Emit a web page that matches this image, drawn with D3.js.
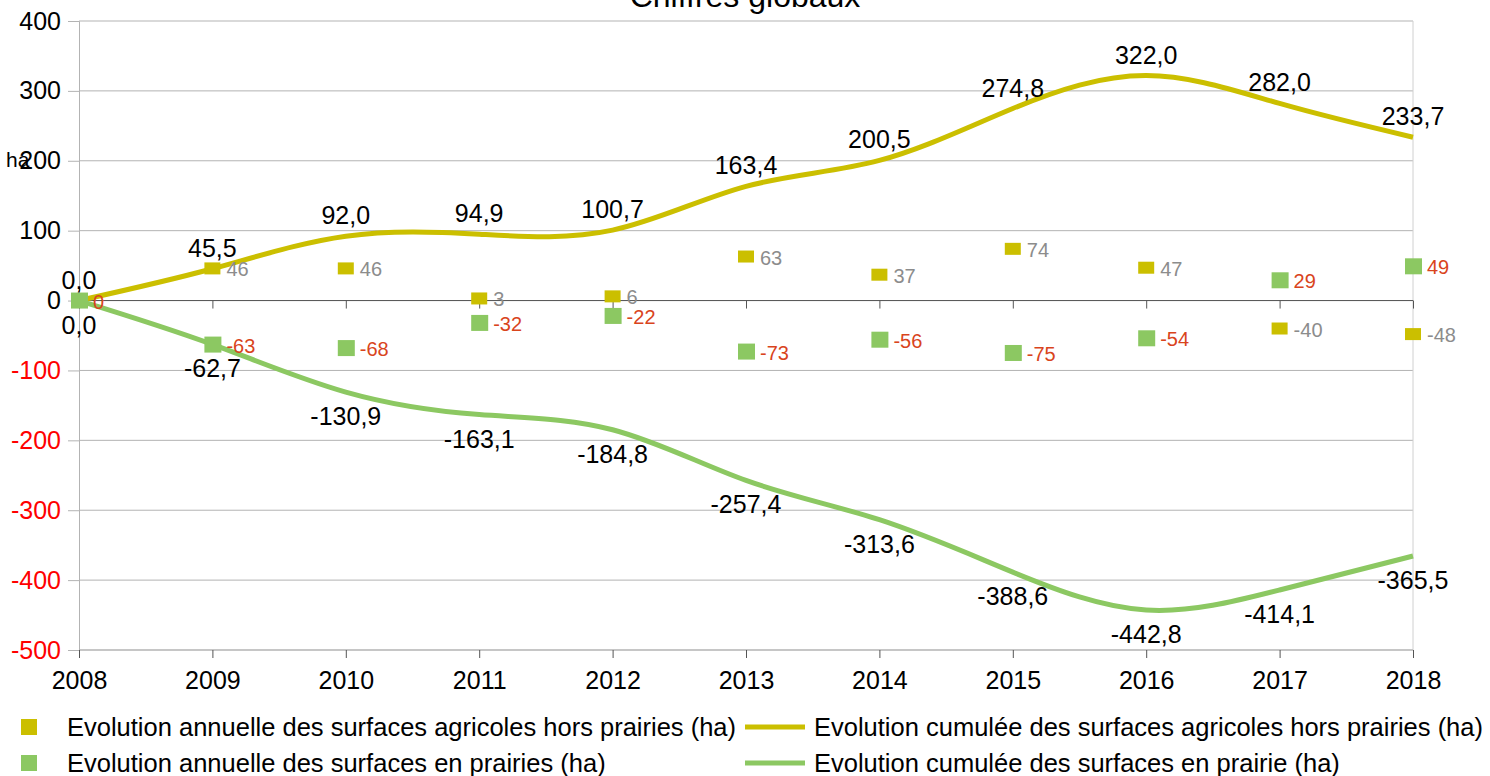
<!DOCTYPE html>
<html>
<head>
<meta charset="utf-8">
<script src="https://cdn.jsdelivr.net/npm/d3@7"></script>
<style>
  body { margin: 0; background: #fff; }
  svg { font-family: "Liberation Sans", Arial, sans-serif; }
</style>
</head>
<body>
<div id="chart"></div>
<script>
// data
var years = ["2008", "2009", "2010", "2011", "2012", "2013", "2014", "2015", "2016", "2017", "2018"];
var annuelHors = [0, 46, 46, 3, 6, 63, 37, 74, 47, -40, -48];
var annuelPrairies = [0, -63, -68, -32, -22, -73, -56, -75, -54, 29, 49];
var cumulHors = [0, 45.5, 92.0, 94.9, 100.7, 163.4, 200.5, 274.8, 322.0, 282.0, 233.7];
var cumulPrairie = [0, -62.7, -130.9, -163.1, -184.8, -257.4, -313.6, -388.6, -442.8, -414.1, -365.5];
var yTicks = [-500, -400, -300, -200, -100, 0, 100, 200, 300, 400];

var W = 1490, H = 776;
var yellow = "#cbbf00", green = "#8cc862";

var svg = d3.select("#chart").append("svg")
    .attr("width", W)
    .attr("height", H);

var x = d3.scalePoint().domain(years).range([79, 1413]);
var y = d3.scaleLinear().domain([-500, 400]).range([650, 21]);

var fmt = function(v) { return v.toFixed(1).replace(".", ","); };

// title (cut at top like the original)
svg.append("text")
    .attr("x", 745).attr("y", 7)
    .attr("text-anchor", "middle")
    .attr("font-size", 32)
    .text("Chiffres globaux");

// grid
svg.append("g").selectAll("line")
    .data(yTicks)
    .enter().append("line")
    .attr("x1", 79).attr("x2", 1413)
    .attr("y1", function(d) { return y(d); })
    .attr("y2", function(d) { return y(d); })
    .attr("stroke", "#b3b3b3")
    .attr("stroke-width", 1);

// right border
svg.append("line")
    .attr("x1", 1413).attr("x2", 1413)
    .attr("y1", y(400)).attr("y2", y(-500))
    .attr("stroke", "#d0d0d0");

// y axis
var yAxis = svg.append("g")
    .attr("transform", "translate(79,0)")
    .call(d3.axisLeft(y).tickValues(yTicks).tickSize(11).tickPadding(7).tickFormat(d3.format("d")));
yAxis.select(".domain").attr("stroke", "#b3b3b3");
yAxis.selectAll(".tick line").attr("stroke", "#b3b3b3");
yAxis.selectAll("text")
    .attr("font-size", 25)
    .attr("font-family", "Liberation Sans, Arial, sans-serif")
    .attr("fill", function(d) { return d < 0 ? "#ff0000" : "#000"; })
    .text(function(d) { return d < 0 ? "-" + Math.abs(d) : d; });

// x axis at zero and at bottom
var xAxis0 = svg.append("g")
    .attr("transform", "translate(0," + y(0) + ")")
    .call(d3.axisBottom(x).tickSize(8).tickFormat(""));
xAxis0.select(".domain").attr("stroke", "#555").attr("d", "M79,0H1413");
xAxis0.selectAll(".tick line").attr("stroke", "#555");

var xAxisB = svg.append("g")
    .attr("transform", "translate(0," + y(-500) + ")")
    .call(d3.axisBottom(x).tickSize(8).tickPadding(13));
xAxisB.select(".domain").attr("stroke", "#b3b3b3").attr("d", "M79,0H1413");
xAxisB.selectAll(".tick line").attr("stroke", "#555");
xAxisB.selectAll("text")
    .attr("font-size", 25)
    .attr("font-family", "Liberation Sans, Arial, sans-serif")
    .attr("fill", "#000");

// unit label
svg.append("text")
    .attr("x", 6).attr("y", 167)
    .attr("font-size", 21)
    .text("ha");

// cumulative lines
var line = d3.line()
    .x(function(d, i) { return x(years[i]); })
    .y(function(d) { return y(d); })
    .curve(d3.curveNatural);

svg.append("path").datum(cumulHors)
    .attr("d", line)
    .attr("fill", "none")
    .attr("stroke", yellow)
    .attr("stroke-width", 5);

svg.append("path").datum(cumulPrairie)
    .attr("d", line)
    .attr("fill", "none")
    .attr("stroke", green)
    .attr("stroke-width", 5);

// annual markers
svg.append("g").selectAll("rect")
    .data(annuelHors)
    .enter().append("rect")
    .attr("x", function(d, i) { return x(years[i]) - 8; })
    .attr("y", function(d) { return y(d) - 6; })
    .attr("width", 16).attr("height", 12)
    .attr("fill", yellow);

svg.append("g").selectAll("rect")
    .data(annuelPrairies)
    .enter().append("rect")
    .attr("x", function(d, i) { return x(years[i]) - 8; })
    .attr("y", function(d) { return y(d) - 8; })
    .attr("width", 17).attr("height", 16)
    .attr("fill", green);

// annual labels
svg.append("g").selectAll("text")
    .data(annuelHors)
    .enter().append("text")
    .filter(function(d, i) { return i > 0; })
    .attr("x", function(d, i) { return x(years[i + 1]) + 14; })
    .attr("y", function(d) { return y(d) + 8; })
    .attr("font-size", 20)
    .attr("fill", "#8c8c8c")
    .text(function(d) { return d; });

svg.append("g").selectAll("text")
    .data(annuelPrairies)
    .enter().append("text")
    .attr("x", function(d, i) { return x(years[i]) + 14; })
    .attr("y", function(d) { return y(d) + 8; })
    .attr("font-size", 20)
    .attr("fill", "#d9441c")
    .text(function(d) { return d; });

// cumulative labels
svg.append("g").selectAll("text")
    .data(cumulHors)
    .enter().append("text")
    .attr("x", function(d, i) { return x(years[i]); })
    .attr("y", function(d) { return y(d) - 12; })
    .attr("text-anchor", "middle")
    .attr("font-size", 25)
    .attr("fill", "#000")
    .text(fmt);

svg.append("g").selectAll("text")
    .data(cumulPrairie)
    .enter().append("text")
    .attr("x", function(d, i) { return x(years[i]); })
    .attr("y", function(d) { return y(d) + 33; })
    .attr("text-anchor", "middle")
    .attr("font-size", 25)
    .attr("fill", "#000")
    .text(fmt);

// legend
var legend = [
    { label: "Evolution annuelle des surfaces agricoles hors prairies (ha)", color: yellow, type: "rect", col: 0, row: 0 },
    { label: "Evolution cumulée des surfaces agricoles hors prairies (ha)", color: yellow, type: "line", col: 1, row: 0 },
    { label: "Evolution annuelle des surfaces en prairies (ha)", color: green, type: "rect", col: 0, row: 1 },
    { label: "Evolution cumulée des surfaces en prairie (ha)", color: green, type: "line", col: 1, row: 1 }
];
var lg = svg.append("g").selectAll("g")
    .data(legend)
    .enter().append("g")
    .attr("transform", function(d) { return "translate(" + (d.col ? 745 : 21) + "," + (727 + d.row * 36) + ")"; });

lg.filter(function(d) { return d.type === "rect"; }).append("rect")
    .attr("x", 0).attr("y", -8).attr("width", 16).attr("height", 16)
    .attr("fill", function(d) { return d.color; });
lg.filter(function(d) { return d.type === "line"; }).append("line")
    .attr("x1", 0).attr("x2", 60).attr("y1", 0).attr("y2", 0)
    .attr("stroke", function(d) { return d.color; })
    .attr("stroke-width", 5);
lg.append("text")
    .attr("x", function(d) { return d.col ? 69 : 46; })
    .attr("y", 9)
    .attr("font-size", 25.5)
    .text(function(d) { return d.label; });
</script>
</body>
</html>
